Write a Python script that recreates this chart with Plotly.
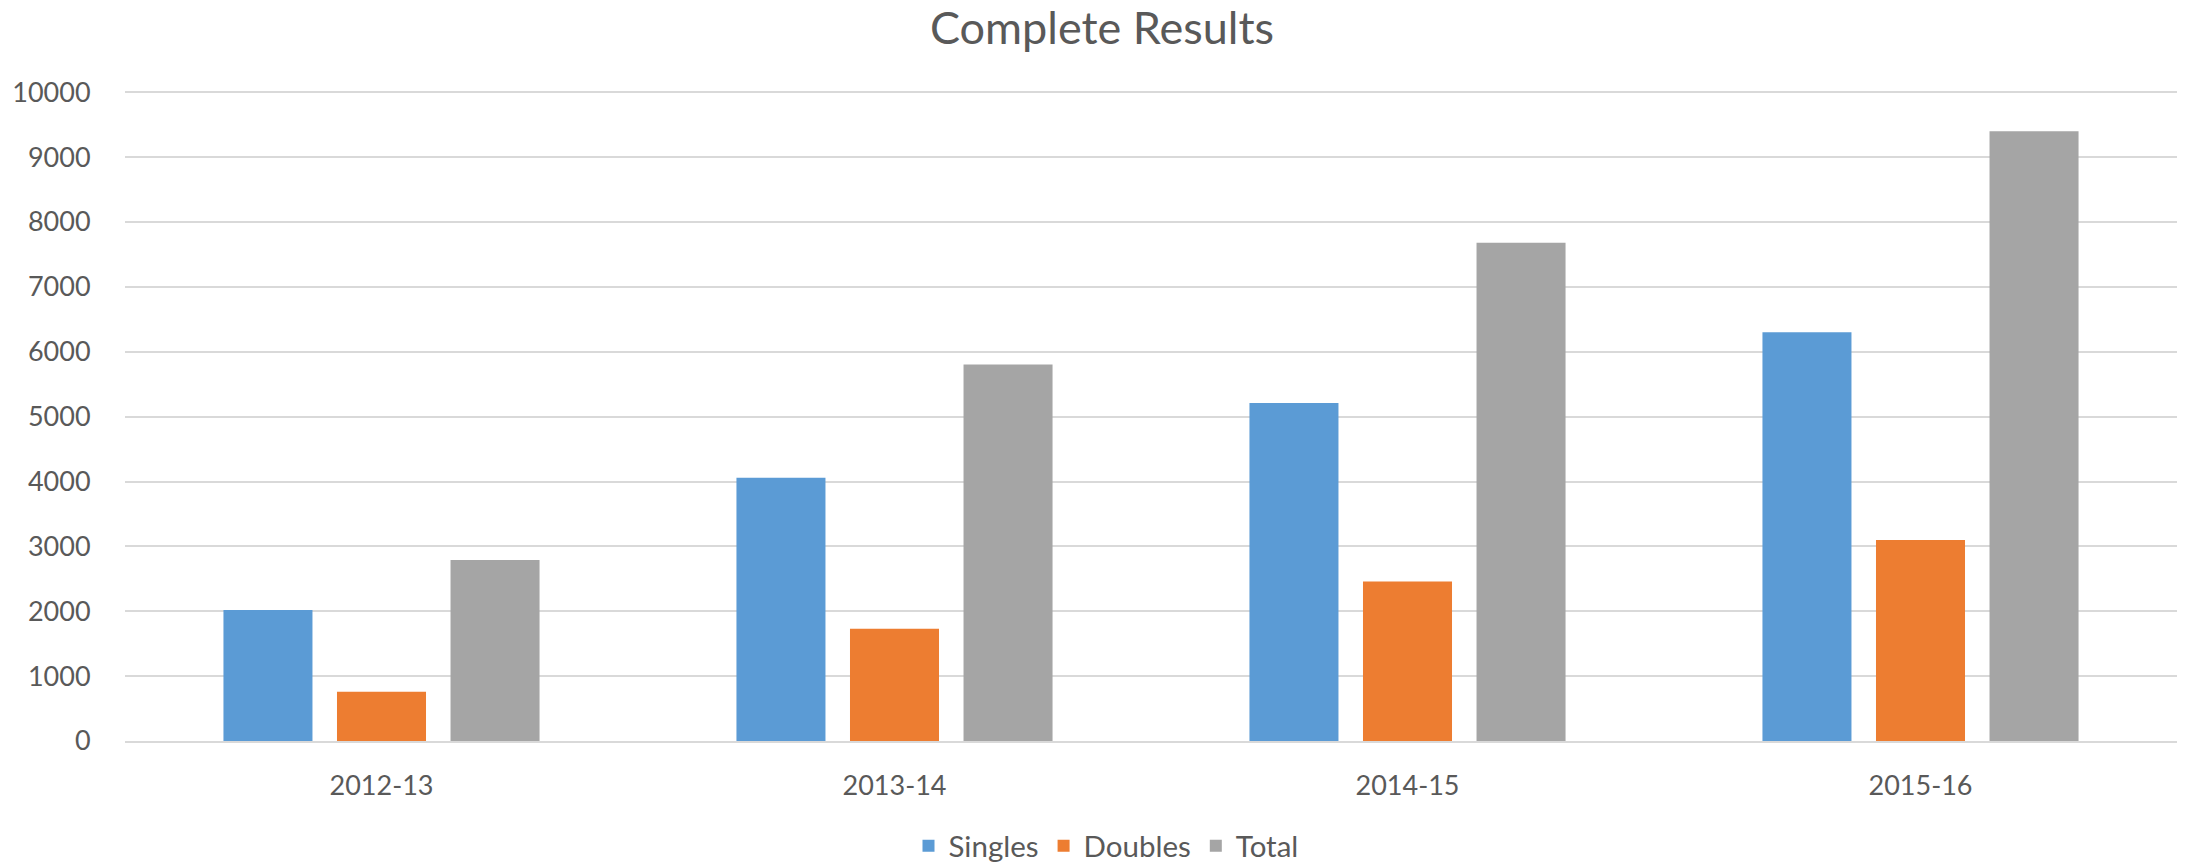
import plotly.graph_objects as go

categories = ["2012-13", "2013-14", "2014-15", "2015-16"]
singles = [2020, 4060, 5210, 6300]
doubles = [760, 1730, 2460, 3100]
total = [2790, 5805, 7680, 9400]
series_names = ["Singles", "Doubles", "Total"]
series_colors = ["#5B9BD5", "#ED7D31", "#A5A5A5"]
y_ticks = [0, 1000, 2000, 3000, 4000, 5000, 6000, 7000, 8000, 9000, 10000]
y_tick_labels = [str(v) for v in y_ticks]

W, H = 2188, 862
FONT = "Lato, 'Open Sans', sans-serif"
TXT = "#595959"

fig = go.Figure()
for name, vals, col in zip(series_names, [singles, doubles, total], series_colors):
    fig.add_trace(go.Bar(name=name, x=categories, y=vals, marker=dict(color=col, line=dict(width=0))))

fig.update_layout(
    width=W, height=H,
    barmode="group", bargap=0.336, bargroupgap=0.216,
    plot_bgcolor="white", paper_bgcolor="white",
    margin=dict(l=125, r=11, t=91, b=121, autoexpand=False),
    font=dict(family=FONT, color=TXT, size=27),
    title=dict(text="Complete Results", x=1102 / W, xref="container", xanchor="center",
               y=1 - 28 / H, yref="container", yanchor="middle",
               font=dict(family=FONT, size=45, color=TXT)),
    showlegend=True,
    legend=dict(orientation="h", x=1106 / W, xanchor="center", xref="container",
                y=1 - 846 / H, yref="container", yanchor="middle",
                font=dict(family=FONT, size=29.5, color=TXT), itemwidth=30,
                traceorder="normal"),
)
fig.update_xaxes(showgrid=False, showline=True, linecolor="#D9D9D9", linewidth=1.5,
                 ticks="outside", ticklen=20, tickcolor="rgba(0,0,0,0)",
                 tickfont=dict(family=FONT, size=27, color=TXT))
fig.update_yaxes(range=[0, 10020], tickvals=y_ticks, ticktext=y_tick_labels,
                 showgrid=True, gridcolor="#D9D9D9",
                 gridwidth=1.5, zeroline=False, showline=False,
                 ticks="outside", ticklen=28, tickcolor="rgba(0,0,0,0)",
                 tickfont=dict(family=FONT, size=27, color=TXT))

fig.write_html("out.html", config={"displayModeBar": False},
               post_script="document.body.style.margin='0';")
